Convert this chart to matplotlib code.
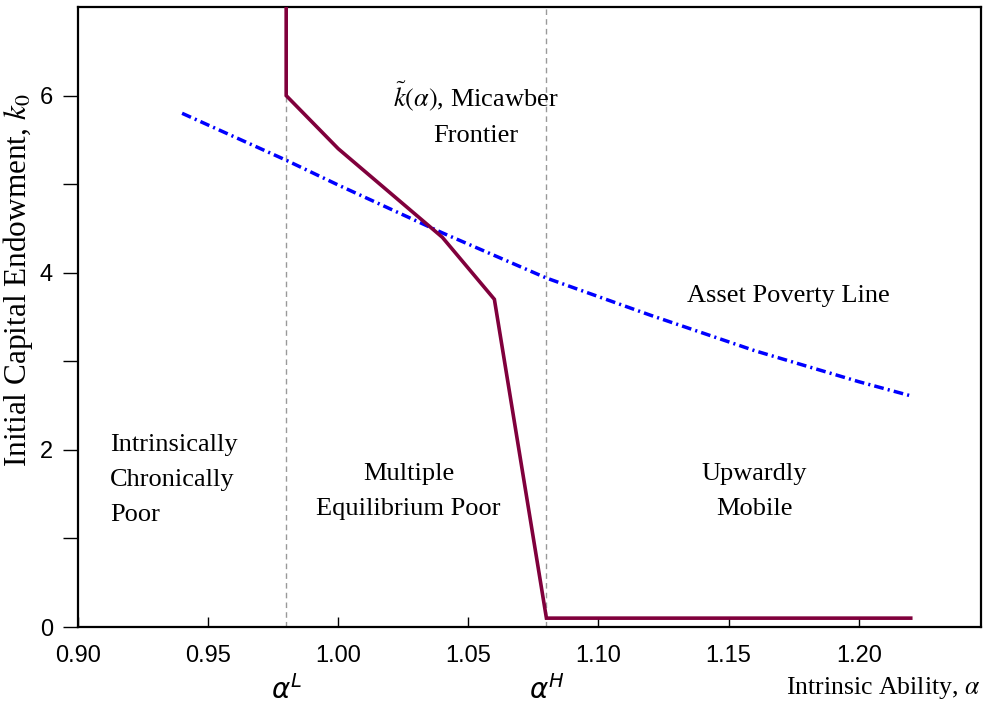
import matplotlib
matplotlib.use("Agg")
import matplotlib.pyplot as plt
from matplotlib.ticker import FixedLocator
from matplotlib.transforms import blended_transform_factory

# Micawber frontier k~(alpha)
frontier_alpha = [0.98, 0.98, 1.00, 1.04, 1.06, 1.08, 1.22]
frontier_k = [7.5, 6.0, 5.4, 4.4, 3.7, 0.1, 0.1]

# Asset poverty line
apl_alpha = [0.94, 0.98, 1.00, 1.04, 1.08, 1.12, 1.16, 1.20, 1.22]
apl_k = [5.80, 5.27, 4.99, 4.45, 3.94, 3.52, 3.12, 2.77, 2.61]

alpha_L = 0.98
alpha_H = 1.08

xticks = [0.90, 0.95, 1.00, 1.05, 1.10, 1.15, 1.20]
xticklabels = ["0.90", "0.95", "1.00", "1.05", "1.10", "1.15", "1.20"]
yticks = [0, 2, 4, 6]
yminor = [1, 3, 5]

serif = "Liberation Serif"
sans = "Liberation Sans"

fig = plt.figure(figsize=(9.84, 7.04), dpi=100)
ax = fig.add_axes([78 / 984, 77 / 704, (981 - 78) / 984, (627 - 7) / 704])

ax.axvline(alpha_L, color="#999999", lw=1.0, ls=(0, (4, 3)), zorder=1)
ax.axvline(alpha_H, color="#999999", lw=1.0, ls=(0, (4, 3)), zorder=1)

ax.plot(apl_alpha, apl_k, color="#0000ff", lw=2.5,
        ls=(0, (2.8, 1.2, 0.6, 1.2)), zorder=2)
ax.plot(frontier_alpha, frontier_k, color="#80003c", lw=2.6, zorder=3,
        solid_joinstyle="miter")

ax.set_xlim(0.9, 1.247)
ax.set_ylim(0, 7)

ax.set_xticks(xticks)
ax.set_xticklabels(xticklabels)
ax.set_yticks(yticks)
ax.yaxis.set_minor_locator(FixedLocator(yminor))
ax.tick_params(axis="x", direction="in", length=7, width=1, pad=13,
               labelsize=17)
ax.tick_params(axis="y", which="both", direction="out", length=11, width=1,
               pad=7, labelsize=17)
for lab in ax.get_xticklabels() + ax.get_yticklabels():
    lab.set_fontfamily(sans)
for s in ax.spines.values():
    s.set_linewidth(1.6)

fs = 19
ls_ = 1.75
ax.text(0.9123, 1.66, "Intrinsically\nChronically\nPoor", ha="left",
        va="center", fontsize=fs, family=serif, linespacing=ls_)
ax.text(1.027, 1.53, "Multiple\nEquilibrium Poor", ha="center",
        va="center", fontsize=fs, family=serif, linespacing=ls_)
ax.text(1.160, 1.53, "Upwardly\nMobile", ha="center",
        va="center", fontsize=fs, family=serif, linespacing=ls_)
ax.text(1.173, 3.74, "Asset Poverty Line", ha="center",
        va="center", fontsize=fs, family=serif)
ax.text(1.0527, 5.80, r"$\tilde{k}(\alpha)$, Micawber" + "\nFrontier",
        ha="center", va="center", fontsize=fs, family=serif,
        linespacing=ls_, math_fontfamily="stix")

tr = blended_transform_factory(ax.transData, ax.transAxes)
ax.text(alpha_L, -0.102, r"$\alpha^L$", ha="center", va="center",
        fontsize=20, transform=tr, math_fontfamily="dejavusans")
ax.text(alpha_H, -0.102, r"$\alpha^H$", ha="center", va="center",
        fontsize=20, transform=tr, math_fontfamily="dejavusans")

fig.text(980 / 984, 1 - 688 / 704, r"Intrinsic Ability, $\alpha$",
         ha="right", va="center", fontsize=18.5, family=serif,
         math_fontfamily="stix")
fig.text(18 / 984, 1 - 280 / 704, r"Initial Capital Endowment, $k_0$",
         ha="center", va="center", rotation=90, fontsize=22.5, family=serif,
         math_fontfamily="stix")

fig.savefig("out.png", dpi=100)
